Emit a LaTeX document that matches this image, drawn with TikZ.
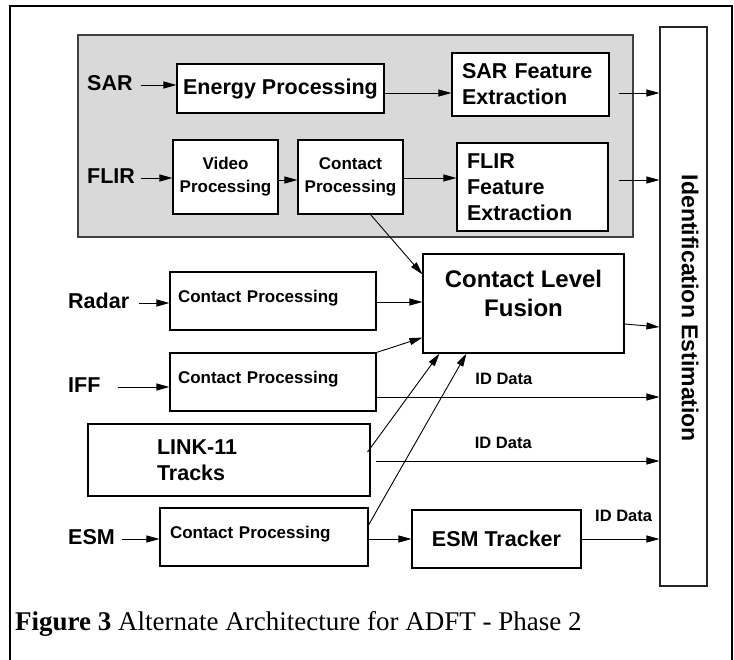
\documentclass[tikz,border=0pt]{standalone}
\usepackage{fontspec}
\setmainfont{Liberation Serif}
\setsansfont{Liberation Sans}
\usetikzlibrary{arrows.meta,calc,positioning}

\begin{document}
\begin{tikzpicture}[x=1pt,y=-1pt,
    blk/.style={draw,fill=white,line width=1.1pt,inner sep=0pt},
    big/.style={font=\sffamily\bfseries\fontsize{21.5}{26}\selectfont},
    small/.style={font=\sffamily\bfseries\fontsize{17}{23}\selectfont},
    src/.style={big,inner sep=3pt,anchor=west,text height=15pt,text depth=5pt},
    cpbox/.style={blk,small,minimum width=206pt,minimum height=58pt,align=left,text width=190pt,text height=12.5pt,text depth=9pt},
    iddata/.style={font=\sffamily\bfseries\fontsize{16.5}{20}\selectfont,inner sep=2pt},
    arr/.style={line width=0.9pt,-{Triangle[length=13pt,width=7pt]}}]
  \useasboundingbox (0,0) rectangle (734,659);
  % figure frame
  \draw[line width=2pt] (10,662) -- (10,6) -- (732,6) -- (732,662);
  % SAR / FLIR panel
  \draw[fill=black!15,draw=black!75,line width=1.1pt] (78,35) rectangle (633,237);
  % boxes
  \node[blk,draw=black!85,minimum width=47pt,minimum height=559pt] (ident) at (683.5,306.5) {};
  \node[rotate=-90,inner sep=0pt,font=\sffamily\bfseries\fontsize{23}{28}\selectfont] (identtxt) at (690,308.5) {Identification Estimation};
  \node[blk,big,minimum width=207pt,minimum height=49pt] (energy) at (280.5,88.5) {Energy Processing};
  \node[blk,big,minimum width=157pt,minimum height=63pt,align=left,text width=137pt] (sarfe) at (530.5,84.5) {SAR Feature\\Extraction};
  \node[blk,small,minimum width=105pt,minimum height=74pt,align=center] (video) at (225.5,177) {Video\\Processing};
  \node[blk,small,minimum width=105pt,minimum height=74pt,align=center] (flircp) at (350.5,177) {Contact\\Processing};
  \node[blk,big,minimum width=151pt,minimum height=88pt,align=left,text width=131pt] (flirfe) at (532.5,187) {FLIR\\Feature\\Extraction};
  \node[blk,minimum width=201pt,minimum height=99pt] (clf) at (523.5,303.5) {};
  \node[inner sep=0pt,align=center,font=\sffamily\bfseries\fontsize{24}{29}\selectfont] (clftxt) at (523.5,293.5) {Contact Level\\Fusion};
  \node[cpbox] (radarcp) at (273,301) {Contact Processing};
  \node[cpbox] (iffcp) at (273,382) {Contact Processing};
  \node[blk,big,minimum width=282pt,minimum height=72pt,align=left,text width=144pt] (link) at (229,460) {LINK-11\\Tracks};
  \node[cpbox,minimum width=208pt,text width=188pt] (esmcp) at (264,537) {Contact Processing};
  \node[blk,big,minimum width=169pt,minimum height=58pt] (esmtrk) at (496.5,539) {ESM Tracker};
  % sensor labels
  \node[src] (sar) at (84,85) {SAR};
  \node[src] (flir) at (84,178) {FLIR};
  \node[src] (radar) at (65,303) {Radar};
  \node[src] (iff) at (65,387) {IFF};
  \node[src] (esm) at (65,539) {ESM};
  % inputs
  \draw[arr] ([xshift=5pt]sar.east) -- (sar.east -| energy.west);
  \draw[arr] ([xshift=3pt]flir.east) -- (flir.east -| video.west);
  \draw[arr] ([xshift=7pt]radar.east) -- (radar.east -| radarcp.west);
  \draw[arr] ([xshift=14pt]iff.east) -- (iff.east -| iffcp.west);
  \draw[arr] ([xshift=4pt]esm.east) -- (esm.east -| esmcp.west);
  % SAR chain
  \draw[arr] ([yshift=-4.5pt]energy.east) -- ([yshift=-4.5pt]energy.east -| sarfe.west);
  \draw[arr] ([xshift=9pt,yshift=-8.5pt]sarfe.east) -- ([yshift=-8.5pt]sarfe.east -| ident.west);
  % FLIR chain
  \draw[arr] ([yshift=-3pt]video.east) -- ([yshift=-3pt]flircp.west);
  \draw[arr] ([yshift=-1pt]flircp.east) -- ([yshift=-1pt]flircp.east -| flirfe.west);
  \draw[arr] ([xshift=10pt,yshift=7pt]flirfe.east) -- ([yshift=7pt]flirfe.east -| ident.west);
  % into fusion
  \draw[arr] ([xshift=20pt]flircp.south) -- ([yshift=-21pt]clf.north west);
  \draw[arr] ([yshift=-1pt]radarcp.east) -- ([yshift=-1pt]radarcp.east -| clf.west);
  \draw[arr] (iffcp.north east) -- ([yshift=16pt]clf.south west);
  \draw[arr] ([xshift=-3pt,yshift=8pt]link.east) -- ([xshift=17pt]clf.south west);
  \draw[arr] ([yshift=12pt]esmcp.east) -- ([xshift=44pt]clf.south west);
  \draw[arr] ([yshift=-20.5pt]clf.east) -- ([yshift=-20.5pt]ident.west);
  % ID data
  \draw[arr] ([yshift=-15pt]iffcp.east) -- ([yshift=-15pt]iffcp.east -| ident.west) node[iddata,pos=0.45,above=10pt] (iffid) {ID Data};
  \draw[arr] ([xshift=5pt,yshift=-1pt]link.east) -- ([yshift=-1pt]link.east -| ident.west) node[iddata,pos=0.45,above=10pt] (linkid) {ID Data};
  \draw[arr] (esmcp.east |- esmtrk.west) -- (esmtrk.west);
  \draw[arr] (esmtrk.east) -- (esmtrk.east -| ident.west) node[iddata,pos=0.54,above=15pt] (esmid) {ID Data};
  % caption
  \node[anchor=base west,inner sep=0pt,font=\fontsize{27}{32}\selectfont] (caption) at (15,630) {\textbf{Figure 3} Alternate Architecture for ADFT - Phase 2};
\end{tikzpicture}
\end{document}
